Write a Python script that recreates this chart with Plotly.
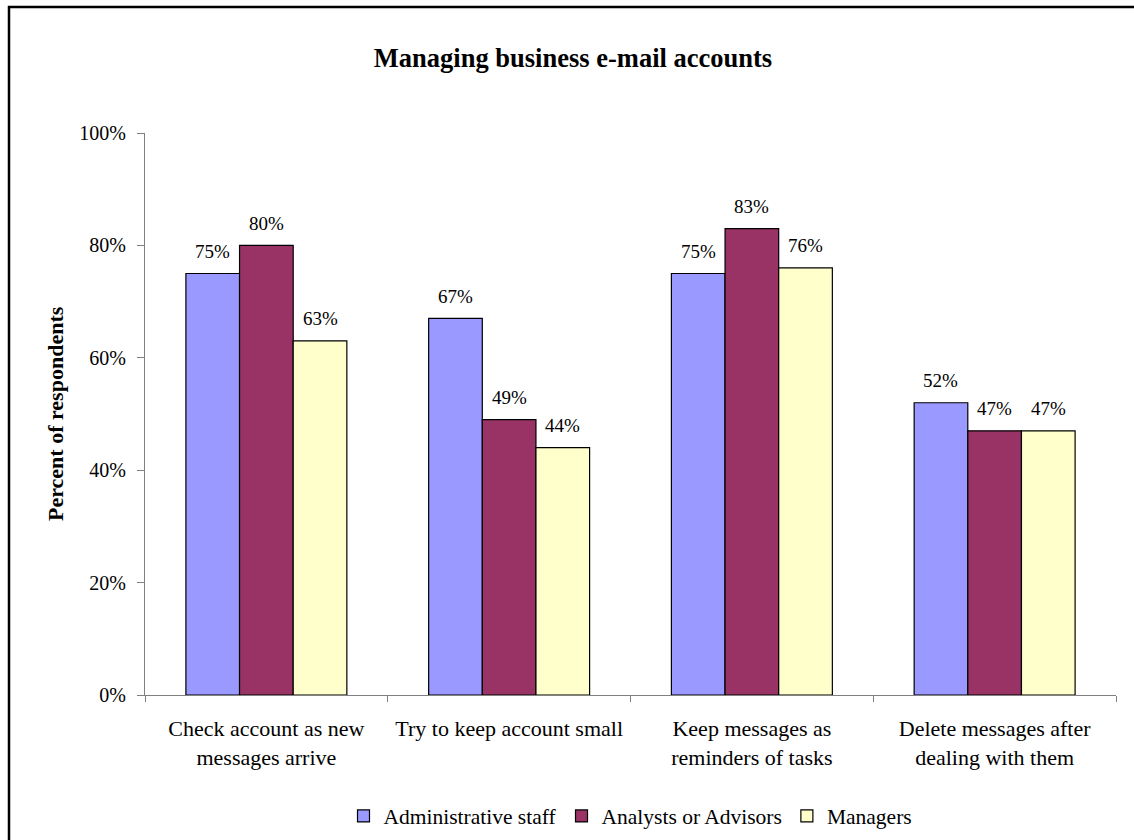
import plotly.graph_objects as go

categories = ["Check account as new<br>messages arrive",
              "Try to keep account small",
              "Keep messages as<br>reminders of tasks",
              "Delete messages after<br>dealing with them"]
series_names = ["Administrative staff", "Analysts or Advisors", "Managers"]
admin = [75, 67, 75, 52]
analysts = [80, 49, 83, 47]
managers = [63, 44, 76, 47]
y_ticks = [0, 20, 40, 60, 80, 100]
colors = ["#9999FF", "#993366", "#FFFFCC"]

FONT = "Liberation Serif, Times New Roman, serif"
W, H = 1134, 840
L, R, T, B = 145, 18, 133, 145

fig = go.Figure()
all_vals = [admin, analysts, managers]
for name, vals, col in zip(series_names, all_vals, colors):
    fig.add_trace(go.Bar(name=name, x=categories, y=vals,
                         marker=dict(color=col, line=dict(color="black", width=1.2))))

# data labels
bar_w = (W - L - R) / 4 * (1 - 0.337) / 3
for i, vals in enumerate(all_vals):
    for c, v in zip(categories, vals):
        fig.add_annotation(x=c, y=v, text=f"{v}%", showarrow=False,
                           xshift=(i - 1) * bar_w, yshift=22, yanchor="middle",
                           font=dict(family=FONT, size=19, color="black"))

# y-axis title
fig.add_annotation(xref="paper", yref="paper", x=(55 - L) / (W - L - R), y=0.5,
                   text="<b>Percent of respondents</b>", textangle=-90, showarrow=False,
                   xanchor="center", yanchor="middle",
                   font=dict(family=FONT, size=22, color="black"))

# outer frame (partially cropped)
pw, ph = W - L - R, H - T - B
fig.add_shape(type="rect", xref="paper", yref="paper",
              x0=(9 - L) / pw, x1=(W + 20 - L) / pw,
              y0=(H - B - (H + 20)) / ph, y1=(H - B - 7) / ph,
              line=dict(color="black", width=2.5), fillcolor="rgba(0,0,0,0)", layer="below")

fig.update_layout(
    width=W, height=H,
    margin=dict(l=L, r=R, t=T, b=B, autoexpand=False),
    paper_bgcolor="white", plot_bgcolor="white",
    barmode="group", bargap=0.337, bargroupgap=0,
    font=dict(family=FONT, size=20, color="black"),
    title=dict(text="<b>Managing business e-mail accounts</b>", xref="container", yref="container",
               x=573 / W, y=1 - 58 / H, xanchor="center", yanchor="middle",
               font=dict(family=FONT, size=26.5, color="black")),
    showlegend=True,
    legend=dict(orientation="h", xref="paper", x=0.5, xanchor="center",
                yref="container", y=1 - 816 / H, yanchor="middle",
                font=dict(family=FONT, size=21.5, color="black"),
                itemwidth=30, traceorder="normal", itemclick=False),
    xaxis=dict(showline=True, linecolor="#808080", linewidth=1, ticks="outside",
               tickson="boundaries", ticklen=6, tickcolor="#808080", showgrid=False,
               tickfont=dict(family=FONT, size=22), ticklabelstandoff=14, fixedrange=True),
    yaxis=dict(range=[0, 100], tickvals=y_ticks, ticktext=[f"{t}%" for t in y_ticks],
               showline=True, linecolor="#808080", linewidth=1, ticks="outside",
               ticklen=7, tickcolor="#808080", showgrid=False, zeroline=False,
               tickfont=dict(family=FONT, size=20), ticklabelstandoff=7, fixedrange=True),
)

fig.write_html("out.html", config={"displayModeBar": False},
               post_script="document.body.style.margin='0';document.body.style.overflow='hidden';")
